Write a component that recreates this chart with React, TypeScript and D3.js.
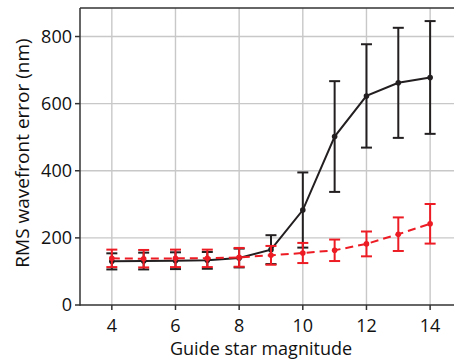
import { useEffect, useRef } from 'react'
import * as d3 from 'd3'

const magnitudes = [4, 5, 6, 7, 8, 9, 10, 11, 12, 13, 14]
const blackValues = [130, 131, 132, 133, 140, 165, 283, 502, 623, 662, 678]
const blackErrors = [24, 25, 25, 25, 28, 43, 112, 165, 154, 164, 168]
const redValues = [139, 138, 139, 139, 142, 148, 155, 163, 182, 211, 242]
const redErrors = [26, 26, 26, 26, 28, 28, 30, 32, 37, 50, 59]
const xTicks = [4, 6, 8, 10, 12, 14]
const yTicks = [0, 200, 400, 600, 800]

const W = 454
const H = 362
const FONT = '"Open Sans", "Noto Sans", sans-serif'

export default function App() {
  const ref = useRef<SVGSVGElement>(null)

  useEffect(() => {
    if (!ref.current) return
    const svg = d3.select(ref.current)
    svg.selectAll('*').remove()

    const left = 80, right = W, top = 8, bottom = 305
    const x = d3.scaleLinear().domain([3, 14.75]).range([left, right])
    const y = d3.scaleLinear().domain([0, 885]).range([bottom, top])

    // grid
    const grid = svg.append('g').attr('stroke', '#c8c8c8').attr('stroke-width', 1.4)
    xTicks.forEach(t => {
      grid.append('line').attr('x1', x(t)).attr('x2', x(t)).attr('y1', top).attr('y2', bottom)
    })
    yTicks.filter(t => t > 0).forEach(t => {
      grid.append('line').attr('x1', left).attr('x2', right).attr('y1', y(t)).attr('y2', y(t))
    })

    // axes frame
    const axisColor = '#333333'
    svg.append('line').attr('x1', left).attr('x2', right).attr('y1', top).attr('y2', top)
      .attr('stroke', axisColor).attr('stroke-width', 1.5)
    svg.append('line').attr('x1', left).attr('x2', right).attr('y1', bottom).attr('y2', bottom)
      .attr('stroke', axisColor).attr('stroke-width', 1.5)
    svg.append('line').attr('x1', left).attr('x2', left).attr('y1', top).attr('y2', bottom + 0.75)
      .attr('stroke', axisColor).attr('stroke-width', 1.5)

    // ticks + labels
    xTicks.forEach(t => {
      svg.append('line').attr('x1', x(t)).attr('x2', x(t)).attr('y1', bottom).attr('y2', bottom + 5)
        .attr('stroke', axisColor).attr('stroke-width', 1.5)
      svg.append('text').attr('x', x(t)).attr('y', 332)
        .attr('text-anchor', 'middle').attr('font-size', 18).attr('font-family', FONT)
        .attr('fill', '#111').text(String(t))
    })
    yTicks.forEach(t => {
      svg.append('line').attr('x1', left - 5).attr('x2', left).attr('y1', y(t)).attr('y2', y(t))
        .attr('stroke', axisColor).attr('stroke-width', 1.5)
      svg.append('text').attr('x', left - 8).attr('y', y(t) + 6)
        .attr('text-anchor', 'end').attr('font-size', 18).attr('font-family', FONT)
        .attr('fill', '#111').text(String(t))
    })

    svg.append('text').attr('x', 261).attr('y', 355)
      .attr('text-anchor', 'middle').attr('font-size', 18).attr('font-family', FONT)
      .attr('fill', '#111').text('Guide star magnitude')
    svg.append('text')
      .attr('transform', `translate(29,153) rotate(-90)`)
      .attr('text-anchor', 'middle').attr('font-size', 19).attr('font-family', FONT)
      .attr('fill', '#111').text('RMS wavefront error (nm)')

    const drawSeries = (vals: number[], errs: number[], color: string, dash: string | null, capW: number) => {
      const g = svg.append('g')
      const line = d3.line<number>().x((_, i) => x(magnitudes[i])).y(d => y(d))
      const path = g.append('path').attr('d', line(vals) as string)
        .attr('fill', 'none').attr('stroke', color).attr('stroke-width', 2)
      if (dash) path.attr('stroke-dasharray', dash)
      vals.forEach((v, i) => {
        const cx = x(magnitudes[i])
        const y1 = y(v + errs[i]), y2 = y(v - errs[i])
        g.append('line').attr('x1', cx).attr('x2', cx).attr('y1', y1).attr('y2', y2)
          .attr('stroke', color).attr('stroke-width', 2)
        ;[y1, y2].forEach(yy => {
          g.append('line').attr('x1', cx - capW).attr('x2', cx + capW).attr('y1', yy).attr('y2', yy)
            .attr('stroke', color).attr('stroke-width', 2)
        })
        g.append('circle').attr('cx', cx).attr('cy', y(v)).attr('r', 2.8).attr('fill', color)
      })
    }

    drawSeries(blackValues, blackErrors, '#231f20', null, 5.5)
    drawSeries(redValues, redErrors, '#ed1c24', '8,5', 5.5)
  }, [])

  return (
    <svg ref={ref} width={W} height={H}
      style={{ display: 'block', position: 'absolute', left: 0, top: 0, background: '#fff' }} />
  )
}
